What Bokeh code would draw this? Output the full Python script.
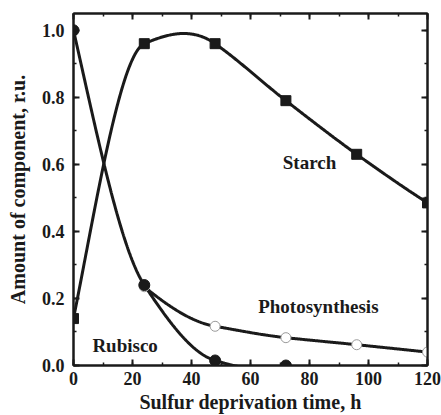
import numpy as np
from bokeh.plotting import figure
from bokeh.models import LinearAxis, Range1d, Label, FixedTicker, CustomJSTickFormatter
from bokeh.embed import file_html
from bokeh.resources import INLINE

# Data
time_h = [0, 24, 48, 72, 96, 120]
starch = [0.14, 0.96, 0.96, 0.79, 0.63, 0.485]
rubisco_t = [0, 24, 48, 72]
rubisco = [1.0, 0.24, 0.015, 0.0]
photo_t = [0, 24, 48, 72, 96, 120]
photo = [1.0, 0.235, 0.117, 0.083, 0.062, 0.04]

x_ticks = [0, 20, 40, 60, 80, 100, 120]
x_minor = list(range(0, 121, 10))
y_ticks = [0.0, 0.2, 0.4, 0.6, 0.8, 1.0]
y_minor = [i / 10 for i in range(0, 11)]

FONT = "Liberation Serif"
INK = "#1a1a1a"


def makima(x, y, n=400):
    """Modified Akima interpolation (smooth curve through the data points)."""
    x = np.asarray(x, float); y = np.asarray(y, float)
    h = np.diff(x); d = np.diff(y) / h; k = len(x)
    dm1 = 2 * d[0] - d[1]; dm2 = 2 * dm1 - d[0]
    dp1 = 2 * d[-1] - d[-2]; dp2 = 2 * dp1 - d[-1]
    de = np.concatenate([[dm2, dm1], d, [dp1, dp2]])
    m = np.zeros(k)
    for i in range(k):
        a, b, c, e = de[i], de[i + 1], de[i + 2], de[i + 3]
        w1 = abs(e - c) + abs(e + c) / 2
        w2 = abs(b - a) + abs(b + a) / 2
        m[i] = (b + c) / 2 if w1 + w2 == 0 else (w1 * b + w2 * c) / (w1 + w2)
    xs = np.linspace(x[0], x[-1], n); ys = np.empty(n)
    for j, xv in enumerate(xs):
        i = min(np.searchsorted(x, xv, side="right") - 1, k - 2)
        t = (xv - x[i]) / h[i]
        h00 = 2 * t ** 3 - 3 * t ** 2 + 1; h10 = t ** 3 - 2 * t ** 2 + t
        h01 = -2 * t ** 3 + 3 * t ** 2; h11 = t ** 3 - t ** 2
        ys[j] = h00 * y[i] + h10 * h[i] * m[i] + h01 * y[i + 1] + h11 * h[i] * m[i + 1]
    return xs, ys


p = figure(width=441, height=415, output_backend="svg", toolbar_location=None,
           x_range=Range1d(0, 120), y_range=Range1d(0, 1.05),
           min_border_left=0, min_border_right=0, min_border_top=0, min_border_bottom=0)
p.grid.visible = False
p.outline_line_color = INK
p.outline_line_width = 2
p.background_fill_color = "white"
p.border_fill_color = "white"


def style_axis(ax, labels=True):
    ax.axis_line_width = 2
    ax.axis_line_color = INK
    ax.major_tick_in = 6
    ax.major_tick_out = 0
    ax.minor_tick_in = 3
    ax.minor_tick_out = 0
    ax.major_tick_line_width = 2
    ax.minor_tick_line_width = 1.5
    ax.major_tick_line_color = INK
    ax.minor_tick_line_color = INK
    ax.major_label_text_font = FONT
    ax.major_label_text_font_style = "bold"
    ax.major_label_text_font_size = "18px"
    ax.major_label_text_color = INK
    ax.axis_label_text_font = FONT
    ax.axis_label_text_font_style = "bold"
    ax.axis_label_text_font_size = "20px"
    ax.axis_label_text_color = INK
    if not labels:
        ax.major_label_text_font_size = "0px"
        ax.major_label_standoff = 0


p.xaxis.ticker = FixedTicker(ticks=x_ticks, minor_ticks=x_minor)
p.yaxis.ticker = FixedTicker(ticks=y_ticks, minor_ticks=y_minor)
p.yaxis.formatter = CustomJSTickFormatter(code="return tick.toFixed(1);")
style_axis(p.xaxis[0]); style_axis(p.yaxis[0])
p.xaxis.axis_label = "Sulfur deprivation time, h"
p.yaxis.axis_label = "Amount of component, r.u."
p.xaxis.major_label_standoff = 6
p.xaxis.axis_label_standoff = 3
p.yaxis.major_label_standoff = 9
p.yaxis.axis_label_standoff = 10

top = LinearAxis(ticker=FixedTicker(ticks=x_ticks, minor_ticks=x_minor))
right = LinearAxis(ticker=FixedTicker(ticks=y_ticks, minor_ticks=y_minor))
style_axis(top, False); style_axis(right, False)
p.add_layout(top, "above")
p.add_layout(right, "right")
p.min_border_top = 13
p.min_border_right = 14
p.min_border_left = 73
p.min_border_bottom = 49

# smooth curves through the data
sx, sy = makima(time_h, starch)
rx, ry = makima(rubisco_t, rubisco)
px_, py_ = makima(photo_t, photo)
mask = px_ >= photo_t[1]   # photosynthesis curve coincides with Rubisco before 24 h
p.line(sx, sy, line_color=INK, line_width=3)
p.line(px_[mask], py_[mask], line_color=INK, line_width=3)
p.line(rx, ry, line_color=INK, line_width=3)

p.scatter(time_h, starch, marker="square", size=10, fill_color=INK, line_color=INK)
p.scatter(photo_t, photo, marker="circle", size=10, fill_color="white",
          line_color="#9a9a9a", line_width=1)
p.scatter(rubisco_t, rubisco, marker="circle", size=11, fill_color=INK, line_color=INK)

for txt, x, y in [("Starch", 80, 0.605), ("Photosynthesis", 83, 0.175), ("Rubisco", 17.5, 0.06)]:
    p.add_layout(Label(x=x, y=y, text=txt, text_align="center", text_baseline="middle",
                       text_font=FONT, text_font_style="bold", text_font_size="19px",
                       text_color=INK))

open("out.html", "w").write(file_html(p, INLINE))
